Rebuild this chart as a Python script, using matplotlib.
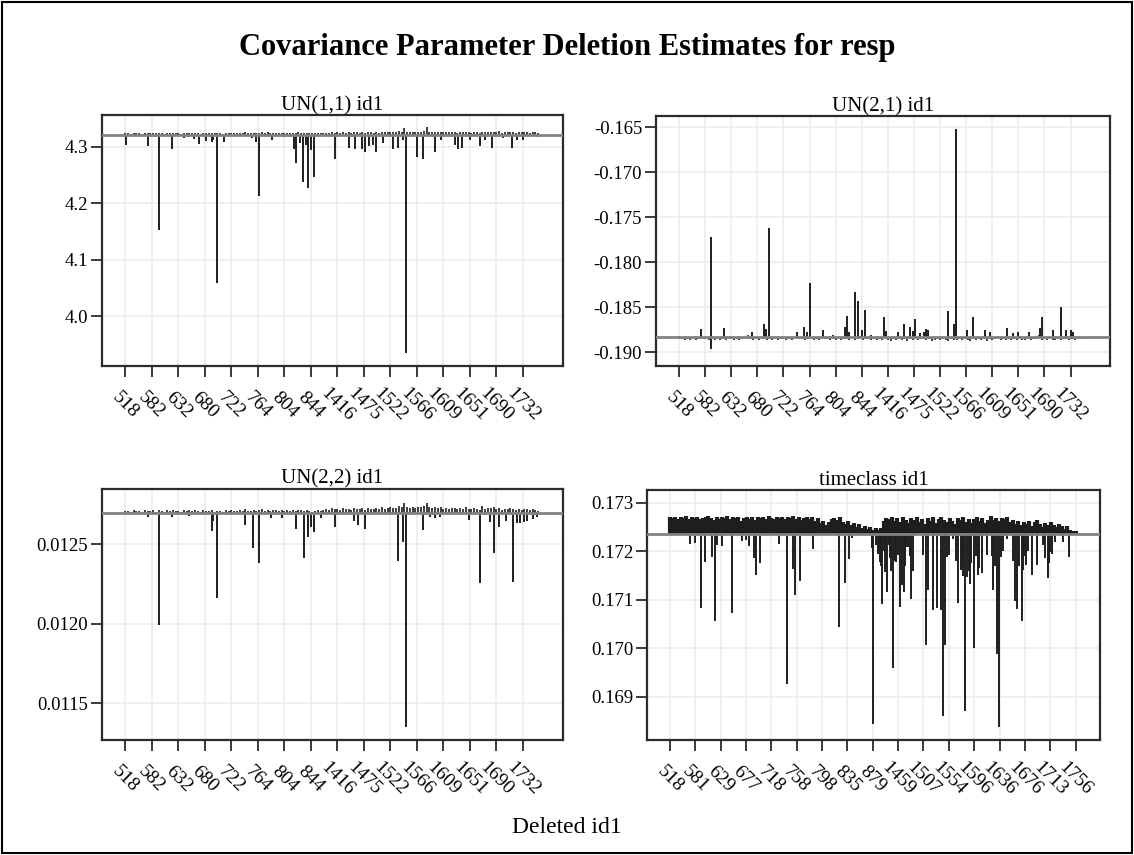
################################################################################
# Covariance Parameter Deletion Estimates for resp (needle plots)
################################################################################
import numpy as np
import matplotlib.pyplot as plt
from matplotlib.patches import Rectangle

plt.rcParams['font.family'] = ['Liberation Serif', 'DejaVu Serif']

################################################################################
# Datos

# Etiquetas del eje x (id1 eliminado)
ticks_a = ['518', '582', '632', '680', '722', '764', '804', '844', '1416', '1475',
           '1522', '1566', '1609', '1651', '1690', '1732']
ticks_b = ['518', '581', '629', '677', '718', '758', '798', '835', '879', '1459',
           '1507', '1554', '1596', '1636', '1676', '1713', '1756']

# Observaciones "ordinarias": una de cada 4 posiciones (0, 4, ..., 592)
pos_banda = np.arange(0, 593, 4)

# UN(1,1) id1
un11_ref = 4.3207
un11_banda = [4.3235, 4.3240, 4.3228, 4.3245, 4.3238, 4.3242, 4.3230, 4.3247, 4.3236, 4.3241,
              4.3244, 4.3233, 4.3248, 4.3239, 4.3229, 4.3246, 4.3241, 4.3250, 4.3237, 4.3243,
              4.3232, 4.3246, 4.3240, 4.3249, 4.3235, 4.3244, 4.3238, 4.3230, 4.3245, 4.3241,
              4.3236, 4.3247, 4.3233, 4.3242, 4.3239, 4.3228, 4.3244, 4.3237, 4.3249, 4.3241,
              4.3234, 4.3246, 4.3240, 4.3251, 4.3243, 4.3236, 4.3248, 4.3239, 4.3245, 4.3252,
              4.3241, 4.3255, 4.3238, 4.3247, 4.3244, 4.3236, 4.3250, 4.3242, 4.3248, 4.3235,
              4.3246, 4.3239, 4.3251, 4.3244, 4.3237, 4.3248, 4.3243, 4.3233, 4.3241, 4.3247,
              4.3236, 4.3244, 4.3250, 4.3241, 4.3255, 4.3246, 4.3252, 4.3243, 4.3258, 4.3249,
              4.3254, 4.3245, 4.3260, 4.3251, 4.3248, 4.3256, 4.3244, 4.3259, 4.3252, 4.3247,
              4.3257, 4.3249, 4.3262, 4.3253, 4.3258, 4.3266, 4.3255, 4.3261, 4.3270, 4.3263,
              4.3332, 4.3268, 4.3259, 4.3264, 4.3257, 4.3262, 4.3266, 4.3271, 4.3340, 4.3266,
              4.3255, 4.3262, 4.3258, 4.3264, 4.3251, 4.3259, 4.3253, 4.3261, 4.3256, 4.3250,
              4.3258, 4.3252, 4.3263, 4.3255, 4.3249, 4.3260, 4.3254, 4.3247, 4.3258, 4.3252,
              4.3262, 4.3258, 4.3266, 4.3261, 4.3283, 4.3250, 4.3258, 4.3252, 4.3263, 4.3256,
              4.3249, 4.3257, 4.3251, 4.3260, 4.3254, 4.3247, 4.3255, 4.3258, 4.3250]
un11_picos = [(1, 4.303), (32, 4.302), (43, 4.317), (48, 4.153), (67, 4.296), (84, 4.316),
              (90, 4.317), (99, 4.313), (106, 4.305), (116, 4.310), (124, 4.308), (126, 4.312),
              (131, 4.058), (142, 4.309), (181, 4.315), (188, 4.308), (192, 4.213), (210, 4.311),
              (228, 4.317), (242, 4.296), (245, 4.271), (251, 4.306), (255, 4.237), (259, 4.303),
              (262, 4.226), (266, 4.294), (271, 4.247), (300, 4.278), (320, 4.298), (329, 4.296),
              (339, 4.295), (344, 4.290), (350, 4.301), (355, 4.303), (360, 4.291), (370, 4.306),
              (384, 4.295), (391, 4.297), (398, 4.311), (403, 3.935), (418, 4.282), (427, 4.278),
              (444, 4.290), (452, 4.311), (472, 4.303), (477, 4.295), (482, 4.298), (494, 4.311),
              (509, 4.301), (516, 4.311), (525, 4.298), (542, 4.315), (555, 4.298), (561, 4.311),
              (570, 4.311), (592, 4.317)]

# UN(2,1) id1
un21_ref = -0.1883
un21_banda = [-0.18815, -0.18855, -0.18862, -0.18848, -0.18858, -0.18842, -0.18865, -0.18850, -0.18820, -0.18857,
              -0.18846, -0.18860, -0.18852, -0.18866, -0.18845, -0.18858, -0.18850, -0.18863, -0.18841, -0.18855,
              -0.18860, -0.18848, -0.18866, -0.18853, -0.18845, -0.18812, -0.18857, -0.18862, -0.18849, -0.18858,
              -0.18843, -0.18856, -0.18864, -0.18851, -0.18859, -0.18846, -0.18862, -0.18855, -0.18848, -0.18865,
              -0.18852, -0.18860, -0.18844, -0.18818, -0.18857, -0.18849, -0.18863, -0.18853, -0.18846, -0.18859,
              -0.18850, -0.18862, -0.18815, -0.18855, -0.18847, -0.18860, -0.18852, -0.18866, -0.18845, -0.18858,
              -0.18849, -0.18856, -0.18862, -0.18844, -0.18859, -0.18851, -0.18820, -0.18864, -0.18853, -0.18848,
              -0.18860, -0.18855, -0.18866, -0.18850, -0.18858, -0.18845, -0.18862, -0.18870, -0.18853, -0.18861,
              -0.18848, -0.18866, -0.18856, -0.18872, -0.18851, -0.18862, -0.18845, -0.18868, -0.18857, -0.18850,
              -0.18864, -0.18853, -0.18870, -0.18858, -0.18847, -0.18866, -0.18855, -0.18862, -0.18873, -0.18851,
              -0.18860, -0.18868, -0.18854, -0.18865, -0.18849, -0.18858, -0.18870, -0.18856, -0.18863, -0.18852,
              -0.18866, -0.18857, -0.18869, -0.18850, -0.18862, -0.18855, -0.18818, -0.18864, -0.18853, -0.18860,
              -0.18847, -0.18863, -0.18856, -0.18868, -0.18815, -0.18858, -0.18866, -0.18852, -0.18861, -0.18849,
              -0.18857, -0.18812, -0.18864, -0.18853, -0.18860, -0.18845, -0.18858, -0.18866, -0.18851, -0.18862,
              -0.18855, -0.18848, -0.18861, -0.18852, -0.18858, -0.18846, -0.18856, -0.18850, -0.18838]
un21_picos = [(32, -0.18744), (46, -0.17720), (47, -0.18967), (66, -0.18733), (106, -0.18771),
              (123, -0.18686), (126, -0.18738), (131, -0.17620), (172, -0.18771), (182, -0.18716),
              (187, -0.18771), (191, -0.18227), (210, -0.18752), (224, -0.18808), (241, -0.18722),
              (245, -0.18597), (248, -0.18771), (256, -0.18330), (261, -0.18427), (266, -0.18752),
              (271, -0.18530), (280, -0.18808), (299, -0.18604), (302, -0.18763), (319, -0.18771),
              (328, -0.18686), (336, -0.18722), (340, -0.18763), (344, -0.18633), (351, -0.18782),
              (356, -0.18774), (360, -0.18738), (362, -0.18752), (391, -0.18538), (400, -0.18686),
              (403, -0.16520), (419, -0.18752), (428, -0.18604), (446, -0.18752), (452, -0.18771),
              (478, -0.18727), (486, -0.18782), (493, -0.18771), (509, -0.18771), (526, -0.18727),
              (529, -0.18611), (544, -0.18752), (556, -0.18493), (564, -0.18752), (570, -0.18752),
              (573, -0.18771)]

# UN(2,2) id1
un22_ref = 0.012695
un22_banda = [0.012708, 0.012712, 0.012705, 0.012714, 0.012709, 0.012711, 0.012704, 0.012715, 0.012710, 0.012707,
              0.012713, 0.012706, 0.012716, 0.012709, 0.012704, 0.012714, 0.012711, 0.012717, 0.012708, 0.012712,
              0.012705, 0.012715, 0.012710, 0.012718, 0.012707, 0.012713, 0.012709, 0.012703, 0.012714, 0.012711,
              0.012708, 0.012716, 0.012706, 0.012712, 0.012710, 0.012704, 0.012713, 0.012709, 0.012717, 0.012711,
              0.012707, 0.012714, 0.012710, 0.012719, 0.012712, 0.012708, 0.012717, 0.012711, 0.012715, 0.012720,
              0.012712, 0.012718, 0.012709, 0.012715, 0.012713, 0.012708, 0.012716, 0.012711, 0.012714, 0.012707,
              0.012715, 0.012710, 0.012718, 0.012713, 0.012708, 0.012716, 0.012712, 0.012706, 0.012711, 0.012715,
              0.012708, 0.012714, 0.012720, 0.012716, 0.012726, 0.012719, 0.012724, 0.012717, 0.012728, 0.012721,
              0.012725, 0.012718, 0.012729, 0.012722, 0.012719, 0.012727, 0.012716, 0.012730, 0.012723, 0.012720,
              0.012728, 0.012721, 0.012732, 0.012724, 0.012729, 0.012735, 0.012726, 0.012731, 0.012738, 0.012733,
              0.012762, 0.012736, 0.012729, 0.012734, 0.012727, 0.012732, 0.012735, 0.012740, 0.012760, 0.012735,
              0.012726, 0.012732, 0.012728, 0.012734, 0.012722, 0.012729, 0.012724, 0.012731, 0.012726, 0.012720,
              0.012728, 0.012722, 0.012733, 0.012725, 0.012719, 0.012730, 0.012724, 0.012718, 0.012742, 0.012723,
              0.012731, 0.012726, 0.012734, 0.012722, 0.012728, 0.012717, 0.012724, 0.012719, 0.012727, 0.012721,
              0.012716, 0.012722, 0.012718, 0.012725, 0.012719, 0.012713, 0.012720, 0.012715, 0.012711]
un22_picos = [(32, 0.012670), (48, 0.011992), (67, 0.012674), (91, 0.012678), (124, 0.012586),
              (126, 0.012648), (131, 0.012160), (171, 0.012621), (183, 0.012475), (192, 0.012381),
              (209, 0.012664), (225, 0.012664), (245, 0.012594), (256, 0.012412), (262, 0.012544),
              (266, 0.012611), (271, 0.012579), (281, 0.012664), (300, 0.012607), (328, 0.012648),
              (333, 0.012621), (344, 0.012594), (391, 0.012395), (398, 0.012516), (403, 0.011349),
              (427, 0.012590), (437, 0.012670), (444, 0.012664), (451, 0.012670), (492, 0.012653),
              (509, 0.012255), (523, 0.012642), (529, 0.012447), (535, 0.012611), (546, 0.012648),
              (556, 0.012265), (561, 0.012632), (566, 0.012636), (571, 0.012642), (576, 0.012648),
              (584, 0.012657), (590, 0.012670)]

# timeclass id1
tc_ref = 0.172365
tc_banda = [0.17270, 0.17268, 0.17271, 0.17266, 0.17270, 0.17269, 0.17272, 0.17267, 0.17270, 0.17268,
            0.17271, 0.17266, 0.17269, 0.17270, 0.17272, 0.17268, 0.17264, 0.17270, 0.17267, 0.17271,
            0.17269, 0.17273, 0.17266, 0.17270, 0.17268, 0.17271, 0.17262, 0.17269, 0.17270, 0.17267,
            0.17270, 0.17265, 0.17271, 0.17268, 0.17270, 0.17266, 0.17272, 0.17269, 0.17267, 0.17270,
            0.17268, 0.17271, 0.17266, 0.17270, 0.17269, 0.17272, 0.17267, 0.17270, 0.17264, 0.17269,
            0.17271, 0.17267, 0.17270, 0.17263, 0.17268, 0.17258, 0.17262, 0.17255, 0.17260, 0.17266,
            0.17268, 0.17265, 0.17270, 0.17261, 0.17257, 0.17263, 0.17254, 0.17259, 0.17250, 0.17256,
            0.17248, 0.17252, 0.17246, 0.17250, 0.17244, 0.17248, 0.17243, 0.17247, 0.17262, 0.17268,
            0.17266, 0.17270, 0.17263, 0.17268, 0.17260, 0.17271, 0.17265, 0.17258, 0.17269, 0.17264,
            0.17270, 0.17261, 0.17267, 0.17256, 0.17268, 0.17263, 0.17270, 0.17259, 0.17266, 0.17271,
            0.17264, 0.17260, 0.17269, 0.17262, 0.17257, 0.17268, 0.17265, 0.17271, 0.17261, 0.17267,
            0.17258, 0.17266, 0.17270, 0.17263, 0.17268, 0.17259, 0.17265, 0.17272, 0.17264, 0.17269,
            0.17262, 0.17268, 0.17266, 0.17271, 0.17260, 0.17265, 0.17257, 0.17263, 0.17255, 0.17261,
            0.17256, 0.17262, 0.17253, 0.17260, 0.17264, 0.17257, 0.17250, 0.17259, 0.17254, 0.17261,
            0.17255, 0.17249, 0.17257, 0.17251, 0.17246, 0.17252, 0.17244, 0.17241, 0.17242]
tc_picos = [(30, 0.17214), (36, 0.17216), (46, 0.17083), (51, 0.17178), (61, 0.17188), (66, 0.17056),
            (68, 0.17212), (76, 0.17210), (91, 0.17073), (105, 0.17221), (111, 0.17223), (116, 0.17210),
            (123, 0.17185), (126, 0.17150), (131, 0.17175), (159, 0.17215), (171, 0.16926), (179, 0.17164),
            (182, 0.17109), (190, 0.17139), (209, 0.17204), (246, 0.17044), (256, 0.17135), (261, 0.17183),
            (266, 0.17228), (295, 0.17207), (297, 0.16843), (301, 0.17212), (303, 0.17195), (306, 0.17178),
            (308, 0.17170), (310, 0.17092), (312, 0.17200), (314, 0.17157), (317, 0.17116), (319, 0.17212),
            (321, 0.17185), (323, 0.17160), (326, 0.16959), (328, 0.17180), (330, 0.17178), (333, 0.17192),
            (336, 0.17085), (338, 0.17130), (341, 0.17116), (343, 0.17170), (345, 0.17209), (348, 0.17209),
            (350, 0.17190), (352, 0.17101), (355, 0.17160), (363, 0.17233), (370, 0.17192), (374, 0.17007),
            (377, 0.17120), (384, 0.17079), (390, 0.17082), (396, 0.17078), (399, 0.16860), (402, 0.17007),
            (404, 0.17188), (407, 0.17192), (413, 0.17226), (418, 0.17180), (421, 0.17093), (424, 0.17162),
            (426, 0.17170), (428, 0.17148), (431, 0.16871), (434, 0.17147), (436, 0.17160), (438, 0.17133),
            (440, 0.17175), (443, 0.17000), (446, 0.17190), (449, 0.17150), (451, 0.17165), (456, 0.17156),
            (463, 0.17192), (470, 0.17190), (472, 0.17121), (474, 0.17170), (477, 0.16988), (480, 0.16837),
            (483, 0.17188), (486, 0.17200), (492, 0.17226), (501, 0.17180), (504, 0.17097), (507, 0.17080),
            (510, 0.17170), (513, 0.17056), (515, 0.17161), (517, 0.17190), (519, 0.17171), (522, 0.17200),
            (529, 0.17150), (535, 0.17171), (545, 0.17212), (548, 0.17185), (551, 0.17144), (553, 0.17175),
            (555, 0.17199), (558, 0.17195), (562, 0.17219), (574, 0.17219), (583, 0.17188), (585, 0.17233)]

################################################################################
# Gráfica

def panel(ax, titulo, ref, banda, picos, ticks, paso, yt, fmt, ylim, lw_banda):
    ax.grid(True, color='#ebebeb', lw=1.1)
    ax.set_axisbelow(True)
    ax.vlines(pos_banda, ref, banda, colors='#1e1e1e', lw=lw_banda) # observaciones comunes
    px = [p[0] for p in picos]
    py = [p[1] for p in picos]
    ax.vlines(px, ref, py, colors='#1e1e1e', lw=1.4) # observaciones influyentes
    ax.axhline(ref, color='#828282', lw=2, zorder=3) # estimación con todos los datos
    ax.set_xlim(-33.5, 627.5)
    ax.set_ylim(*ylim)
    ax.set_xticks(np.arange(len(ticks)) * paso, ticks)
    ax.set_yticks(yt, [fmt.format(v) for v in yt])
    ax.set_title(titulo, fontsize=15, pad=3)
    ax.tick_params(axis='both', direction='out', length=8, width=1.3, color='#2b2b2b',
                   labelsize=13.5)
    ax.tick_params(axis='y', pad=2)
    ax.tick_params(axis='x', pad=20, labelsize=14)
    for lab in ax.get_xticklabels():
        lab.set_rotation(-45)
        lab.set_rotation_mode('anchor')
        lab.set_ha('center')
        lab.set_va('center')
    for s in ax.spines.values():
        s.set_linewidth(1.6)
        s.set_color('#2b2b2b')

fig = plt.figure(figsize=(11.34, 8.55), dpi=100)
ax1 = fig.add_axes([0.0899, 0.5719, 0.4066, 0.2936])
ax2 = fig.add_axes([0.5785, 0.5719, 0.4004, 0.2924])
ax3 = fig.add_axes([0.0899, 0.1345, 0.4066, 0.2936])
ax4 = fig.add_axes([0.5705, 0.1345, 0.3995, 0.2924])

panel(ax1, 'UN(1,1) id1', un11_ref, un11_banda, un11_picos, ticks_a, 38,
      [4.0, 4.1, 4.2, 4.3], '{:.1f}', (3.912, 4.356), 1.2)
panel(ax2, 'UN(2,1) id1', un21_ref, un21_banda, un21_picos, ticks_a, 38,
      [-0.190, -0.185, -0.180, -0.175, -0.170, -0.165], '{:.3f}', (-0.19152, -0.16374), 1.2)
panel(ax3, 'UN(2,2) id1', un22_ref, un22_banda, un22_picos, ticks_a, 38,
      [0.0115, 0.0120, 0.0125], '{:.4f}', (0.011269, 0.012848), 1.2)
panel(ax4, 'timeclass id1', tc_ref, tc_banda, tc_picos, ticks_b, 37,
      [0.169, 0.170, 0.171, 0.172, 0.173], '{:.3f}', (0.168107, 0.173262), 3.0)

fig.text(0.5, 0.944, 'Covariance Parameter Deletion Estimates for resp', ha='center', va='center',
         fontsize=22, fontweight='bold')
fig.text(0.5, 0.032, 'Deleted id1', ha='center', va='center', fontsize=17)

# Marco de la figura
fig.patches.append(Rectangle((0.002, 0.002), 0.996, 0.996, transform=fig.transFigure,
                             fill=False, lw=1.5, ec='black'))

plt.savefig('out.png', dpi=100)
